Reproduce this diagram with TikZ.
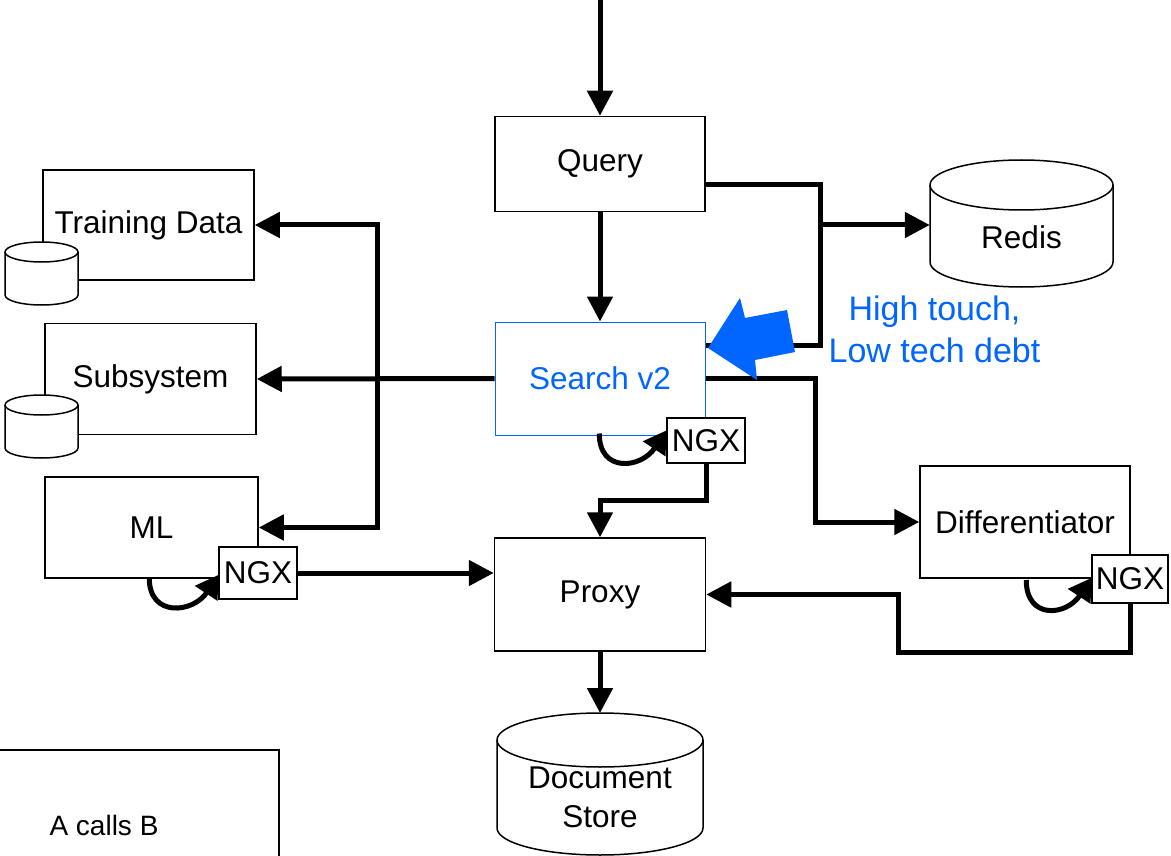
\documentclass[tikz,border=0pt]{standalone}
\usepackage{fontspec}
\setmainfont{Liberation Sans}
\usetikzlibrary{arrows.meta}
\definecolor{hiblue}{RGB}{0,102,255}

\newcommand{\drum}[5]{%
  \filldraw[fill=white,line width=1.5pt] (#1-#3,#2) -- (#1-#3,#2-#5) arc[start angle=180,end angle=360,x radius=#3,y radius=#4] -- (#1+#3,#2) arc[start angle=0,end angle=180,x radius=#3,y radius=#4] -- cycle;
  \draw[line width=1.5pt] (#1-#3,#2) arc[start angle=180,end angle=360,x radius=#3,y radius=#4];
}

\begin{document}
\begin{tikzpicture}[x=1pt,y=1pt,
    box/.style={draw,line width=1.5pt,fill=white,font=\fontsize{31.5}{37}\selectfont,minimum width=210pt},
    ngx/.style={draw,line width=1.5pt,fill=white,font=\fontsize{31.5}{37}\selectfont,inner sep=1pt},
    dbtext/.style={font=\fontsize{31.5}{39}\selectfont,align=center},
    conn/.style={line width=5pt,-{Triangle[length=25pt,width=25pt]}},
    link/.style={line width=5pt},
    loopy/.style={line width=5pt,-{Triangle[length=22pt,width=26pt]}}]
    \useasboundingbox (0,0) rectangle (1171,-856);

    \node[box,minimum height=95pt] (query) at (600,-164) {Query};
    \node[box,minimum height=113pt,draw=hiblue,text=hiblue,line width=1pt] (search) at (600,-378.5) {Search v2};
    \node[box,minimum height=113pt,minimum width=211pt] (proxy) at (600,-594.5) {Proxy};
    \node[box,minimum height=112pt] (diff) at (1025,-522) {Differentiator};
    \node[box,minimum height=110pt,minimum width=211pt] (training) at (148.5,-225) {Training Data};
    \node[box,minimum height=111pt,minimum width=211pt] (subsys) at (150.5,-379) {Subsystem};
    \node[box,minimum height=101pt,minimum width=213pt] (ml) at (151.5,-527.5) {ML};

    \drum{41.5}{-252}{36.5}{10}{43}
    \drum{41.5}{-405}{36.5}{10}{43}
    \drum{1021.5}{-185}{91.5}{25}{77}
    \drum{600}{-740}{103}{27}{88}
    \node[dbtext,minimum width=183pt] (redis) at (1021.5,-237) {Redis};
    \node[dbtext] (store) at (600,-797.5) {Document\\Store};
    \coordinate (storeTop) at (600,-713);

    \node[ngx,minimum width=78pt,minimum height=45pt] (ngxSearch) at (706,-440.5) {NGX};
    \node[ngx,minimum width=78pt,minimum height=52pt] (ngxML) at (258,-573) {NGX};
    \node[ngx,minimum width=76pt,minimum height=48pt] (ngxDiff) at (1130,-579) {NGX};

    \coordinate (entry) at (600,0);
    \coordinate (bus) at (377,-378.5);
    \draw[conn] (entry) -- (query.north);
    \draw[conn] (query) -- (search);
    \draw[conn] (query.east |- 0,-185) -| (820,-225) -- (redis.west |- 0,-225);
    \draw[link] (820,-225) |- (search.east |- 0,-345);
    \draw[conn] (search.east) -- (815,-378.5) |- (diff.west);
    \draw[conn] (search.west) -- (subsys.east);
    \draw[conn] (bus) |- (training.east);
    \draw[conn] (bus) |- (ml.east);
    \draw[conn] (ngxSearch.south) -- ++(0,-37) -| (proxy.north);
    \draw[conn] (ngxML.east) -- (proxy.west |- ngxML.east);
    \draw[conn] (ngxDiff.south) |- (898,-652) |- (proxy.east);
    \draw[conn] (proxy) -- (storeTop);

    \draw[loopy] ([shift={(-67,7)}]ngxSearch.west) .. controls +(0,-40) and +(-25,-38) .. ([yshift=10pt]ngxSearch.west);
    \draw[loopy] ([shift={(-69,-5)}]ngxML.west) .. controls +(0,-40) and +(-25,-38) .. ([yshift=-2pt]ngxML.west);
    \draw[loopy] ([shift={(-65,-1)}]ngxDiff.west) .. controls +(0,-40) and +(-25,-38) .. ([yshift=1pt]ngxDiff.west);

    \fill[hiblue] (708,-348) -- (740,-298) -- (745,-318) -- (787,-310) -- (795,-352) -- (755,-360) -- (757,-380) -- cycle;
    \node[font=\fontsize{34}{42}\selectfont,text=hiblue,align=center] (remark) at (934.5,-329) {High touch,\\Low tech debt};

    \draw[line width=1.5pt] (-5,-750) rectangle (279,-880);
    \node[font=\fontsize{28}{34}\selectfont] (legend) at (104,-825) {A calls B};
\end{tikzpicture}
\end{document}
